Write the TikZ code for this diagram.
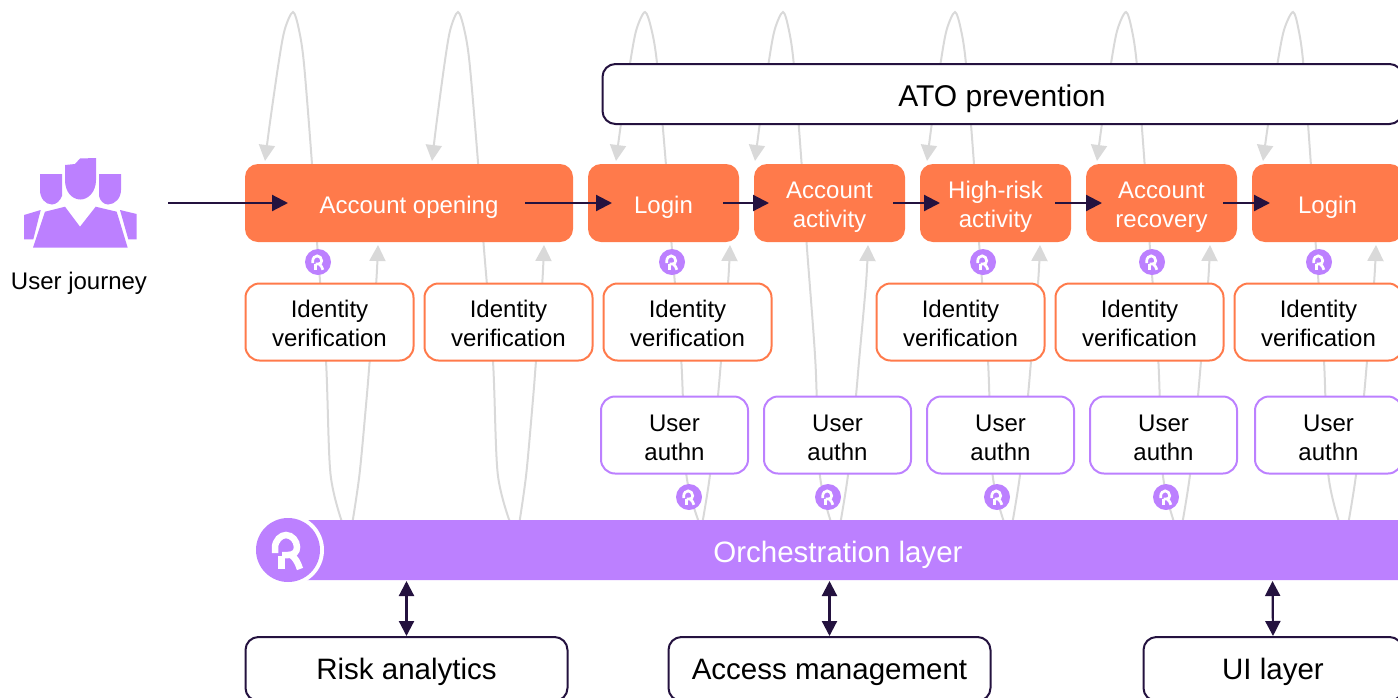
\documentclass[tikz,border=0pt]{standalone}
\usepackage{fontspec}
\setmainfont{Liberation Sans}
\usetikzlibrary{arrows.meta}
\definecolor{flamecol}{HTML}{FF7A4B}
\definecolor{violetcol}{HTML}{BC80FF}
\definecolor{inkcol}{HTML}{24123F}
\definecolor{greycol}{HTML}{D9D9D9}
\tikzset{
    smalltext/.style={font=\fontsize{24}{29}\selectfont,align=center,inner sep=0pt,outer sep=0pt},
    bigtext/.style={font=\fontsize{29.5}{34}\selectfont,align=center,inner sep=0pt,outer sep=0pt},
    stagebox/.style={smalltext,fill=flamecol,text=white,rounded corners=13pt,minimum width=151pt,minimum height=78pt,execute at begin node={\rule{0pt}{25pt}}},
    stagetwo/.style={stagebox,execute at begin node={\rule{0pt}{54.5pt}}},
    idbox/.style={smalltext,draw=flamecol,fill=white,line width=2pt,rounded corners=14pt,minimum width=168pt,minimum height=77pt,execute at begin node={\rule{0pt}{49pt}}},
    authbox/.style={smalltext,draw=violetcol,fill=white,line width=2pt,rounded corners=14pt,minimum width=147pt,minimum height=77pt,execute at begin node={\rule{0pt}{50.5pt}}},
    layerbox/.style={bigtext,draw=inkcol,fill=white,line width=2pt,rounded corners=13pt,minimum height=60pt},
    flowline/.style={draw=greycol,line width=2pt,-{Triangle[length=16pt,width=16pt]}},
    stepline/.style={draw=inkcol,line width=2.2pt,-{Triangle[length=16pt,width=16pt]}},
    bothline/.style={draw=inkcol,line width=2.2pt,{Triangle[length=15pt,width=15pt]}-{Triangle[length=15pt,width=15pt]}},
    badge/.style={circle,fill=violetcol,minimum size=26pt,inner sep=0pt,outer sep=0pt},
    pics/rmark/.style={code={
        \draw[white,line width=#1] (-13,3) -- (-13,-2) .. controls (-13,-10) and (-7,-15) .. (-2,-15) .. controls (4,-15) and (9,-9) .. (9,-3) .. controls (9,2) and (6,5) .. (0,5) -- (-6,5);
        \draw[white,line width=#1] (-6.5,6) -- (-6.5,19);
        \draw[white,line width=#1] (3,5) .. controls (7,7) and (10,13) .. (12,19);
    }},
}
\begin{document}
\begin{tikzpicture}[x=1pt,y=-1pt]
        \useasboundingbox (0,0) rectangle (1398,697);
        \clip (0,0) rectangle (1398,697);

        % grey loops behind the boxes
        \foreach \i/\px/\bx/\tx/\cx/\ux in {1/293/343/265/352/378,2/458/511/432/519/544,3/645/700/616/702/730,4/783/832/755/840/868,5/955/1005/927/1012/1040,6/1126/1175/1097/1182/1210,7/1293/1340/1263/1348/1376} {
            \coordinate (peak\i) at (\px,12);
            \coordinate (base\i) at (\bx,525);
            \coordinate (tip\i) at (\tx,161);
            \coordinate (rise\i) at (\cx,525);
            \coordinate (under\i) at (\ux,245);
            \draw[flowline] plot[smooth] coordinates {(base\i) ({\px+.75*(\bx-\px)},474) ({\px+.66*(\bx-\px)},361) ({\px+.48*(\bx-\px)},242) ({\px+.38*(\bx-\px)},164) ({\px+.22*(\bx-\px)},64) ({\px+.12*(\bx-\px)},30) (peak\i) ({\px-.3*(\px-\tx)},30) ({\px-.52*(\px-\tx)},64) ({\px-.83*(\px-\tx)},124) (tip\i)};
            \draw[flowline] plot[smooth] coordinates {(rise\i) ({\cx+.29*(\ux-\cx)},474) ({\cx+.57*(\ux-\cx)},396) ({\cx+.68*(\ux-\cx)},361) ({\cx+.93*(\ux-\cx)},283) (under\i)};
        }

        % user icon
        \fill[violetcol] (65,165) -- (75,164) -- (80,158.5) -- (96,158) -- (96,180) .. controls (96,192) and (88,199.5) .. (80.5,199.5) .. controls (72,199.5) and (65,192) .. (65,180) -- cycle;
        \fill[violetcol] (40,174) -- (62,174) -- (62,196) .. controls (60,201) and (56,204.5) .. (52,204.5) .. controls (45,204.5) and (40,198) .. (40,190) -- cycle;
        \fill[violetcol] (99,174) -- (121,174) -- (121,190) .. controls (121,198) and (115,204.5) .. (108,204.5) .. controls (104,204.5) and (100,201) .. (99,196) -- cycle;
        \fill[violetcol] (33,247.7) -- (45,211.7) -- (65,206.7) -- (80,226.7) -- (95.7,206.7) -- (116.7,211.7) -- (127.7,247.7) -- cycle;
        \fill[violetcol] (24,215) -- (40.7,210) -- (33.3,239.3) -- (24,239.3) -- cycle;
        \fill[violetcol] (120,210) -- (136.7,214) -- (136.7,239.3) -- (128.3,239.3) -- cycle;
        \node[smalltext] (journey) at (79,283) {User journey};
        \coordinate (start) at (168,203);

        % stages
        \node[stagebox,minimum width=328pt] (opening) at (409,203) {Account opening};
        \node[stagebox] (login) at (663.5,203) {Login};
        \node[stagetwo] (activity) at (829.5,203) {Account\\activity};
        \node[stagetwo] (highrisk) at (995.5,203) {High-risk\\activity};
        \node[stagetwo] (recovery) at (1161.5,203) {Account\\recovery};
        \node[stagebox] (loginb) at (1327.5,203) {Login};

        % checks
        \foreach \i/\x in {1/329.5,2/508.5,3/687.5,4/960.5,5/1139.5,6/1318.5}
            \node[idbox] (id\i) at (\x,322) {Identity\\verification};
        \foreach \i/\x in {1/674.5,2/837.5,3/1000.5,4/1163.5,5/1328.5}
            \node[authbox] (auth\i) at (\x,435) {User\\authn};

        % layers
        \node[layerbox,minimum width=800pt] (ato) at (1002.5,94) {};
        \node[bigtext,font=\fontsize{30}{34}\selectfont] (atotext) at (1002,99) {ATO prevention};
        \fill[violetcol,rounded corners=3pt] (300,520) rectangle (1401,580);
        \node[bigtext,text=white] (orch) at (838,555) {Orchestration layer};
        \coordinate (barleft) at (406.5,580);
        \coordinate (barmid) at (829.5,580);
        \coordinate (barright) at (1272.5,580);
        \node[layerbox,minimum width=322pt,minimum height=64pt,execute at begin node={\rule{0pt}{27pt}}] (risk) at (406.5,669) {Risk analytics};
        \node[layerbox,minimum width=322pt,minimum height=64pt,execute at begin node={\rule{0pt}{27pt}}] (access) at (829.5,669) {Access management};
        \node[layerbox,minimum width=259pt,minimum height=64pt,execute at begin node={\rule{0pt}{27pt}}] (uilayer) at (1273,669) {UI layer};

        % R marks
        \fill[white] (288,550) circle [radius=36];
        \node[badge,minimum size=64pt] (rbig) at (288,550) {};
        \pic at (rbig) {rmark=6.5pt};
        \foreach \i/\x/\y in {1/318/262,2/672/262,3/983/262,4/1152/262,5/1319/262,6/689/497,7/828/497,8/997/497,9/1166/497} {
            \node[badge] (r\i) at (\x,\y) {};
            \pic[scale=.41] at (r\i) {rmark=2.7pt};
        }

        % journey arrows
        \foreach \i/\a/\b in {1/525/612,2/723/769,3/893/940,4/1055/1102,5/1223/1270} {
            \coordinate (from\i) at (\a,203);
            \coordinate (to\i) at (\b,203);
            \draw[stepline] (from\i) -- (to\i);
        }
        \coordinate (to0) at (288,203);
        \draw[stepline] (start) -- (to0);

        \draw[bothline,shorten <=1pt,shorten >=1pt] (barleft) -- (risk.north);
        \draw[bothline,shorten <=1pt,shorten >=1pt] (barmid) -- (access.north);
        \draw[bothline,shorten <=1pt,shorten >=1pt] (barright) -- (uilayer.north);
    \end{tikzpicture}
\end{document}
